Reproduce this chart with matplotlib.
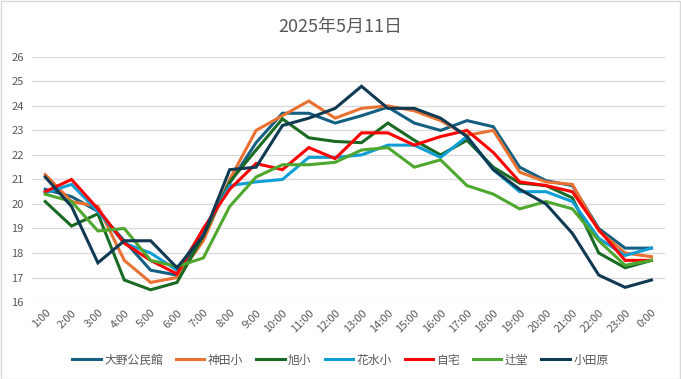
import matplotlib
matplotlib.use('Agg')
import matplotlib.pyplot as plt
from matplotlib.patches import Rectangle

plt.rcParams['font.family'] = ['Noto Sans CJK JP', 'DejaVu Sans']

# hourly temperatures, 2025-05-11
hours = [f"{h}:00" for h in range(1, 24)] + ["0:00"]

oono = [20.6, 20.3, 19.7, 18.5, 17.3, 17.1, 18.8, 20.85, 22.5, 23.7, 23.7, 23.3,
        23.6, 23.95, 23.3, 23.0, 23.4, 23.15, 21.5, 20.95, 20.75, 19.0, 18.2, 18.2]
kanda = [21.2, 20.1, 19.9, 17.7, 16.8, 17.0, 18.5, 21.0, 23.0, 23.6, 24.2, 23.5,
         23.9, 24.0, 23.8, 23.4, 22.8, 23.0, 21.3, 20.9, 20.8, 18.9, 18.0, 17.85]
asahi = [20.1, 19.1, 19.6, 16.9, 16.5, 16.8, 18.7, 20.9, 22.2, 23.47, 22.7, 22.55,
         22.5, 23.3, 22.6, 22.0, 22.6, 21.5, 20.85, 20.75, 20.25, 18.0, 17.4, 17.7]
hanamizu = [20.45, 20.8, 19.7, 18.4, 18.0, 17.3, 18.9, 20.75, 20.9, 21.0, 21.9, 21.9,
            22.0, 22.4, 22.4, 21.9, 22.75, 21.4, 20.5, 20.5, 20.1, 18.6, 17.9, 18.2]
jitaku = [20.5, 21.0, 19.8, 18.4, 17.7, 17.15, 19.0, 20.6, 21.65, 21.4, 22.3, 21.85,
          22.9, 22.9, 22.4, 22.75, 23.0, 22.1, 20.9, 20.75, 20.5, 18.95, 17.7, 17.7]
tsujido = [20.4, 20.1, 18.9, 19.0, 17.7, 17.45, 17.8, 19.9, 21.1, 21.6, 21.6, 21.7,
           22.2, 22.3, 21.5, 21.8, 20.75, 20.4, 19.8, 20.1, 19.8, 18.5, 17.5, 17.7]
odawara = [21.1, 19.9, 17.6, 18.5, 18.5, 17.4, 18.7, 21.4, 21.5, 23.2, 23.5, 23.9,
           24.8, 23.9, 23.9, 23.5, 22.75, 21.4, 20.6, 20.0, 18.8, 17.1, 16.6, 16.9]

names = ["大野公民館", "神田小", "旭小", "花水小", "自宅", "辻堂", "小田原"]
series = [oono, kanda, asahi, hanamizu, jitaku, tsujido, odawara]
colors = ["#156082", "#E97132", "#196B24", "#0F9ED5", "#FF0000", "#4EA72E", "#0F3A52"]

fig = plt.figure(figsize=(6.81, 3.79), dpi=100)
fig.patch.set_facecolor('white')
# chart area border
fig.patches.append(Rectangle((0.001, 0.001), 0.997, 0.997, transform=fig.transFigure,
                             fill=False, edgecolor='#D9D9D9', linewidth=1))

ax = fig.add_axes([0.047, 0.203, 0.929, 0.647])
x = list(range(len(hours)))
for name, ys, c in zip(names, series, colors):
    ax.plot(x, ys, color=c, linewidth=2.2, label=name, solid_joinstyle='miter')

ax.set_xlim(-0.5, len(hours) - 0.5)
ax.set_ylim(16, 26)
ax.set_yticks(range(16, 27))
ax.set_xticks(x)
ax.set_xticklabels(hours, rotation=45, ha='right', rotation_mode='anchor')
ax.grid(axis='y', color='#D9D9D9', linewidth=0.9)
ax.set_axisbelow(True)
for s in ax.spines.values():
    s.set_visible(False)
ax.tick_params(axis='both', length=0, labelsize=8, colors='#595959')
ax.tick_params(axis='y', pad=6)
ax.tick_params(axis='x', pad=4)

fig.text(0.5, 0.928, "2025年5月11日", ha='center', va='center', fontsize=13, color='#595959')

fig.legend(loc='center', bbox_to_anchor=(0.5, 0.05), ncol=7, frameon=False,
           fontsize=8.5, handlelength=2.4, handletextpad=0.3, columnspacing=1.1,
           labelcolor='#595959')

fig.savefig('out.png', dpi=100)
